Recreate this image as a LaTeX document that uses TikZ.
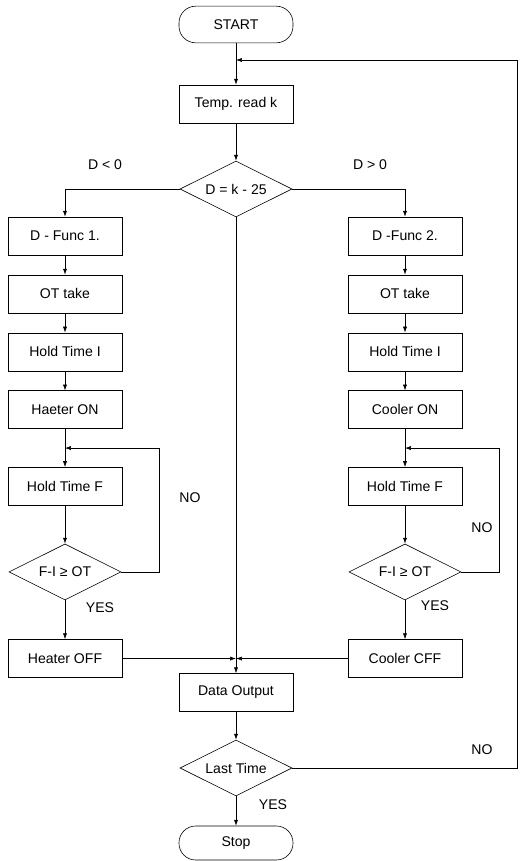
\documentclass[tikz,border=0pt]{standalone}
\usepackage{fontspec}
\setmainfont{Liberation Sans}
\usetikzlibrary{positioning,shapes.geometric,arrows.meta,calc}

\tikzstyle{line}  = [draw, line width=0.5pt]
\tikzstyle{arr}   = [line, -{Latex[length=5pt,width=3.5pt]}]
\tikzstyle{box}   = [rectangle, line, minimum width=3.42cm, minimum height=1.14cm, inner sep=2pt]
\tikzstyle{term}  = [box, rounded corners=0.5cm, minimum height=1.1cm]
\tikzstyle{test}  = [diamond, line, aspect=2, minimum width=3.36cm, minimum height=1.68cm, inner sep=0pt]
\tikzstyle{lbl}   = [inner sep=0pt]

\begin{document}
\begin{tikzpicture}[x=0.03cm, y=-0.03cm, node distance=0.58cm and 0cm, font=\fontsize{12}{14}\selectfont]
  \useasboundingbox (0,0) rectangle (519,861);

  % start and reading
  \node[term] (start) at (236,24.5) {START};
  \node[box] (read) at (236,104) {Temp. read k};
  \node[test] (diff) at (236,189) {D = k - 25};

  % heating branch
  \node[box] (DF_1) at (65,236) {D - Func 1.};
  \node[box, below=of DF_1] (OT_1) {OT take};
  \node[box, below=of OT_1] (HI_1) {Hold Time I};
  \node[box, below=of HI_1] (ON_1) {Haeter ON};
  \node[box, below=1.14cm of ON_1] (HF_1) {Hold Time F};
  \node[test, below=1.14cm of HF_1] (CMP_1) {F-I ≥ OT};
  \node[box, below=1.17cm of CMP_1] (OFF_1) {Heater OFF};

  % cooling branch
  \node[box] (DF_2) at (405,236) {D -Func 2.};
  \node[box, below=of DF_2] (OT_2) {OT take};
  \node[box, below=of OT_2] (HI_2) {Hold Time I};
  \node[box, below=of HI_2] (ON_2) {Cooler ON};
  \node[box, below=1.14cm of ON_2] (HF_2) {Hold Time F};
  \node[test, below=1.14cm of HF_2] (CMP_2) {F-I ≥ OT};
  \node[box, below=1.17cm of CMP_2] (OFF_2) {Cooler CFF};

  % output and end
  \node[box] (out) at (236,692.5) {Data Output};
  \node[test] (last) at (236,768) {Last Time};
  \node[term, minimum height=1.02cm] (stop) at (236,843) {Stop};

  % labels
  \node[lbl] (L_lt) at (105,165) {D < 0};
  \node[lbl] (L_gt) at (370,165) {D > 0};
  \node[lbl] (L_no1) at (190,498) {NO};
  \node[lbl] (L_no2) at (482,528) {NO};
  \node[lbl] (L_yes1) at (100,608) {YES};
  \node[lbl] (L_yes2) at (435,606) {YES};
  \node[lbl] (L_no3) at (482,750) {NO};
  \node[lbl] (L_yes3) at (273,805) {YES};

  % joints
  \coordinate (J_0) at (236,60);
  \coordinate (R_0) at (517,60);
  \coordinate (J_1) at ($(ON_1.south)!0.5!(HF_1.north)$);
  \coordinate (J_2) at ($(ON_2.south)!0.5!(HF_2.north)$);
  \coordinate (J_3) at (diff.south |- OFF_1.east);

  \draw[arr] (start) -- (read);
  \draw[arr] (read) -- (diff);
  \draw[arr] (diff.west) -| (DF_1.north);
  \draw[arr] (diff.east) -| (DF_2.north);
  \draw[arr] (DF_1) -- (OT_1);
  \draw[arr] (OT_1) -- (HI_1);
  \draw[arr] (HI_1) -- (ON_1);
  \draw[arr] (ON_1) -- (HF_1);
  \draw[arr] (HF_1) -- (CMP_1);
  \draw[arr] (CMP_1) -- (OFF_1);
  \draw[arr] (CMP_1.east) -- ++(38,0) |- (J_1);
  \draw[arr] (DF_2) -- (OT_2);
  \draw[arr] (OT_2) -- (HI_2);
  \draw[arr] (HI_2) -- (ON_2);
  \draw[arr] (ON_2) -- (HF_2);
  \draw[arr] (HF_2) -- (CMP_2);
  \draw[arr] (CMP_2) -- (OFF_2);
  \draw[arr] (CMP_2.east) -- ++(38,0) |- (J_2);
  \draw[arr] (OFF_1) -- (J_3);
  \draw[arr] (OFF_2) -- (J_3);
  \draw[arr] (diff.south) -- (out.north);
  \draw[arr] (out) -- (last);
  \draw[arr] (last) -- (stop);
  \draw[arr] (last.east) -| (R_0) -- (J_0);
\end{tikzpicture}
\end{document}
